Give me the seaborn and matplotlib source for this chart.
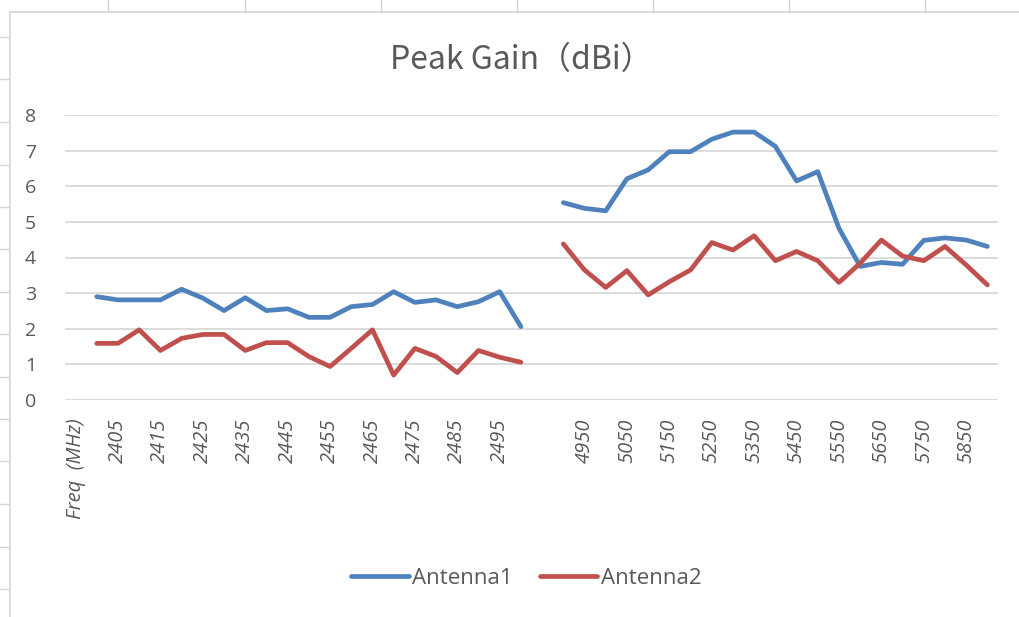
import matplotlib
matplotlib.use("Agg")
import matplotlib.pyplot as plt
from matplotlib.lines import Line2D
import numpy as np
import pandas as pd
import seaborn as sns

# ---- data ----
categories = (["Freq  (MHz)"]
              + ["2400", "2405", "2410", "2415", "2420", "2425", "2430", "2435", "2440", "2445",
                 "2450", "2455", "2460", "2465", "2470", "2475", "2480", "2485", "2490", "2495", "2500"]
              + [""]
              + ["4900", "4950", "5000", "5050", "5100", "5150", "5200", "5250", "5300", "5350",
                 "5400", "5450", "5500", "5550", "5600", "5650", "5700", "5750", "5800", "5850", "5900"])

ant1_24 = [2.90, 2.81, 2.81, 2.81, 3.11, 2.86, 2.51, 2.87, 2.51, 2.56, 2.32,
           2.32, 2.62, 2.68, 3.04, 2.74, 2.81, 2.62, 2.76, 3.04, 2.06]
ant2_24 = [1.59, 1.59, 1.97, 1.39, 1.73, 1.84, 1.84, 1.39, 1.61, 1.61, 1.22,
           0.94, 1.45, 1.97, 0.70, 1.45, 1.22, 0.77, 1.39, 1.20, 1.06]
ant1_5 = [5.54, 5.38, 5.31, 6.21, 6.46, 6.97, 6.97, 7.32, 7.52, 7.52, 7.12,
          6.15, 6.41, 4.82, 3.75, 3.86, 3.81, 4.48, 4.55, 4.49, 4.31]
ant2_5 = [4.38, 3.65, 3.16, 3.63, 2.95, 3.32, 3.65, 4.42, 4.21, 4.61, 3.91,
          4.17, 3.91, 3.30, 3.84, 4.49, 4.04, 3.91, 4.31, 3.79, 3.23]
series_names = ["Antenna1", "Antenna2"]
title = "Peak Gain（dBi）"

# ---- build long table ----
pos_24 = [categories.index(c) for c in categories[1:22]]
pos_5 = [categories.index(c) for c in categories[23:]]
rows = []
for name, v24, v5 in [(series_names[0], ant1_24, ant1_5), (series_names[1], ant2_24, ant2_5)]:
    for p, v in zip(pos_24, v24):
        rows.append((name, "2.4G", p, v))
    for p, v in zip(pos_5, v5):
        rows.append((name, "5G", p, v))
df = pd.DataFrame(rows, columns=["antenna", "band", "pos", "gain"])

# ---- style ----
sns.set_theme(style="white")
plt.rcParams["font.family"] = ["Open Sans", "DejaVu Sans"]
text_col = "#595959"
palette = {"Antenna1": "#4F81BD", "Antenna2": "#C0504D"}

fig = plt.figure(figsize=(10.2, 6.17), dpi=100)
fig.patch.set_facecolor("white")

# spreadsheet surroundings
frame_col = "#D4D4D4"
fig.add_artist(Line2D([10/1020, 10/1020], [0, 1 - 12/617], color=frame_col, lw=1.2))
fig.add_artist(Line2D([10/1020, 1], [1 - 12/617, 1 - 12/617], color=frame_col, lw=1.2))
for xc in [108, 245, 381, 517, 653, 789, 925]:
    fig.add_artist(Line2D([xc/1020, xc/1020], [1 - 12/617, 1], color=frame_col, lw=1.0))
for yc in [37, 79, 122, 165, 207, 249, 292, 334, 377, 419, 461, 504, 547, 589]:
    fig.add_artist(Line2D([0, 8/1020], [1 - yc/617, 1 - yc/617], color=frame_col, lw=1.0))

ax = fig.add_axes([65/1020, 1 - 400/617, (998 - 65)/1020, (400 - 115)/617])
sns.lineplot(data=df, x="pos", y="gain", hue="antenna", units="band", estimator=None,
             palette=palette, linewidth=3.4, ax=ax, legend=False, sort=False)
for ln in ax.lines:
    ln.set_solid_capstyle("round")
    ln.set_solid_joinstyle("round")

ax.set_xlim(-0.5, len(categories) - 0.5)
ax.set_ylim(0, 8)
ax.set_yticks(range(0, 9))
ax.set_yticklabels([str(i) for i in range(0, 9)], fontsize=14, color=text_col)
ticks = list(range(0, len(categories), 2))
ax.set_xticks(ticks)
ax.set_xticklabels([categories[i] for i in ticks], rotation=90, fontsize=14.5,
                   color=text_col, style="italic")
ax.tick_params(axis="x", length=0, pad=13)
ax.tick_params(axis="y", length=0, pad=21)
ax.set_xlabel("")
ax.set_ylabel("")
ax.grid(axis="y", color="#D9D9D9", linewidth=1.3)
ax.grid(axis="x", visible=False)
ax.set_axisbelow(True)
for s in ax.spines.values():
    s.set_visible(False)

fig.text(0.511, 1 - 60/617, title, ha="center", va="center", fontsize=23,
         color=text_col, family=["Noto Sans CJK SC", "DejaVu Sans"])

handles = [Line2D([], [], color=palette[n], lw=3.4, solid_capstyle="round") for n in series_names]
fig.legend(handles, series_names, loc="center", bbox_to_anchor=(0.516, 1 - 578/617),
           ncol=2, frameon=False, fontsize=16, handlelength=2.6, handletextpad=0.15,
           columnspacing=1.2, labelcolor=text_col)

fig.savefig("out.png", dpi=100, facecolor="white")
